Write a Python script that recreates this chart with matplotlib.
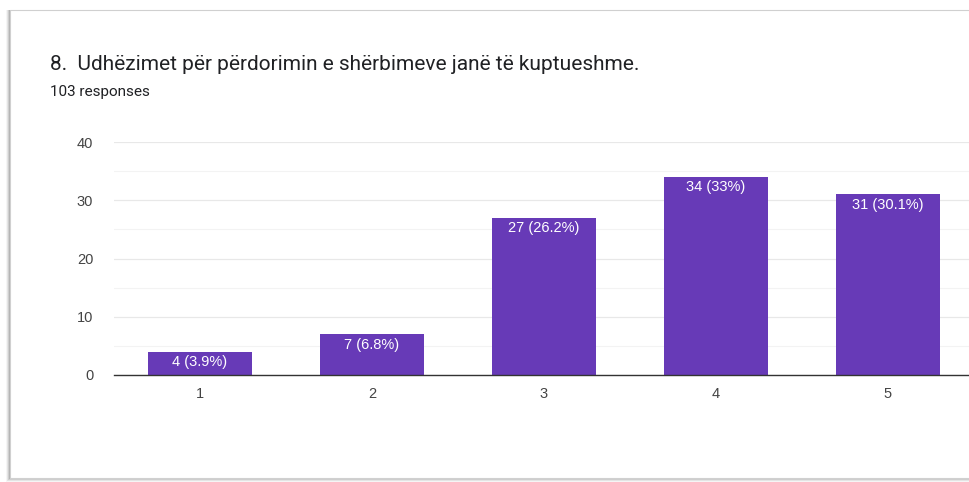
import matplotlib
matplotlib.use("Agg")
import matplotlib.pyplot as plt
from matplotlib.patches import Rectangle

plt.rcParams['font.family'] = ['Roboto', 'DejaVu Sans']
chart_font = ['Liberation Sans', 'DejaVu Sans']

# Survey answers on a 1-5 scale
categories = ["1", "2", "3", "4", "5"]
counts = [4, 7, 27, 34, 31]
percents = [3.9, 6.8, 26.2, 33, 30.1]
yticks = [0, 10, 20, 30, 40]
title = "8.  Udhëzimet për përdorimin e shërbimeve janë të kuptueshme."
subtitle = "103 responses"

W, H = 969, 482
fig = plt.figure(figsize=(W / 100, H / 100), dpi=100)
fig.patch.set_facecolor("white")

# Card with a soft shadow on its left and bottom edges
def px(x, y):
    return x / W, 1 - y / H

for i, a in enumerate([0.08, 0.14, 0.22, 0.32]):
    off = 4 - i
    x0, y1 = px(10 - off, 478 + off)
    fig.patches.append(Rectangle((x0, y1), 1.2, (478 + off - 10) / H,
                                 transform=fig.transFigure, facecolor="#808080",
                                 alpha=a, edgecolor="none", zorder=0))
x0, y1 = px(10, 478)
fig.patches.append(Rectangle((x0, y1), 1.2, (478 - 10) / H,
                             transform=fig.transFigure, facecolor="white",
                             edgecolor="#d0d0d0", linewidth=0.8, zorder=0))

fig.text(50 / W, 1 - 65 / H, title, fontsize=15, color="#202124",
         va="center", ha="left", zorder=3)
fig.text(50 / W, 1 - 92 / H, subtitle, fontsize=11, color="#202124",
         va="center", ha="left", zorder=3)

left, right = 114, 974
top, bottom = 142, 375
ax = fig.add_axes([left / W, 1 - bottom / H, (right - left) / W, (bottom - top) / H])
ax.set_zorder(2)
ax.set_facecolor("none")

x = range(1, len(categories) + 1)
bars = ax.bar(x, counts, width=0.61, color="#673AB7", zorder=3)
for xi, c, p in zip(x, counts, percents):
    ax.annotate(f"{c} ({p:g}%)", (xi, c), xytext=(0, -2.5), textcoords="offset points",
                ha="center", va="top", color="white", fontsize=10.5, zorder=4,
                family=chart_font)

ax.set_xlim(0.5, 5.5)
ax.set_ylim(0, 40)
ax.set_xticks(list(x))
ax.set_xticklabels(categories, family=chart_font)
ax.set_yticks(yticks)
ax.set_yticklabels([str(v) for v in yticks], family=chart_font)
ax.set_yticks([5, 15, 25, 35], minor=True)
ax.grid(axis="y", which="major", color="#e8e8e8", linewidth=0.9, zorder=0)
ax.grid(axis="y", which="minor", color="#f3f3f3", linewidth=0.8, zorder=0)
ax.set_axisbelow(True)
ax.tick_params(axis="both", which="both", length=0, labelsize=10.5, labelcolor="#444444")
ax.tick_params(axis="y", pad=15)
ax.tick_params(axis="x", pad=9)
for s in ["top", "right", "left"]:
    ax.spines[s].set_visible(False)
ax.spines["bottom"].set_color("#333333")
ax.spines["bottom"].set_linewidth(1.0)
ax.spines["bottom"].set_zorder(5)

fig.savefig("out.png", dpi=100)
